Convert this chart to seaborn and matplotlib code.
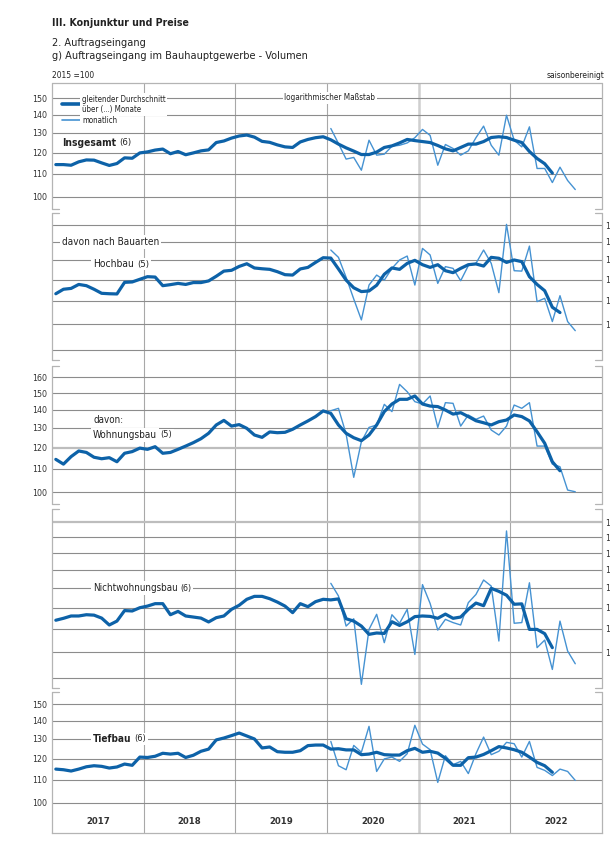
import numpy as np
import pandas as pd
import matplotlib
matplotlib.use("Agg")
import matplotlib.pyplot as plt
from matplotlib.lines import Line2D
from matplotlib.ticker import FixedLocator, FixedFormatter, NullLocator
import seaborn as sns

# ---- data (index 2015 = 100), monthly from Jan 2017 ----
years = [2017, 2018, 2019, 2020, 2021, 2022]
first_monthly = 36  # Jan 2020

ins_ma = [114.2, 114.2, 113.9, 115.5, 116.4, 116.3, 115.0, 113.8, 114.7, 117.4,
          117.2, 119.8, 120.3, 121.2, 121.7, 119.4, 120.5, 118.9, 119.8, 120.8,
          121.3, 125.0, 125.8, 127.3, 128.4, 128.9, 127.8, 125.6, 125.1, 123.8,
          122.8, 122.5, 125.3, 126.6, 127.5, 128.0,
          126.4, 124.2, 122.3, 120.7, 119.0, 119.0, 120.2, 122.5, 123.3, 124.8,
          126.6, 126.0, 125.5, 125.0, 123.5, 121.8, 120.8, 122.5, 124.2, 124.2,
          125.5, 127.6, 128.0, 127.6, 126.2, 125.0, 120.5, 117.1, 114.6, 110.3]
ins_mon = [132.4, 124.5, 116.8, 117.6, 111.6, 126.2, 118.7, 119.2, 123.1, 123.6,
           124.8, 127.5, 131.9, 128.7, 113.9, 124.0, 122.0, 118.7, 120.8, 127.5,
           133.7, 123.6, 118.7, 139.8, 126.2, 122.8, 133.3, 112.4, 112.4, 106.1,
           113.0, 107.0, 103.1]

hoch_ma = [113.2, 115.3, 115.7, 117.6, 117.0, 115.3, 113.4, 113.2, 113.1, 118.6,
           118.8, 120.1, 121.4, 121.2, 117.0, 117.5, 118.1, 117.6, 118.5, 118.5,
           119.3, 121.6, 124.2, 124.6, 126.6, 128.0, 125.8, 125.4, 125.1, 123.9,
           122.4, 122.2, 125.3, 126.1, 128.7, 131.2, 131.0, 125.3, 119.7, 116.0,
           114.2, 114.5, 117.2, 122.6, 125.8, 125.1, 128.2, 129.8, 127.5, 126.1,
           127.5, 124.4, 123.4, 125.6, 127.5, 127.9, 126.8, 131.4, 130.9, 128.7,
           130.0, 129.1, 121.4, 117.6, 114.6, 107.1, 104.8]
hoch_mon = [135.4, 131.4, 121.1, 110.8, 101.7, 117.3, 122.2, 119.7, 125.6, 130.0,
            132.1, 117.3, 136.3, 132.7, 118.1, 126.5, 125.6, 119.4, 127.0, 128.2,
            135.4, 128.2, 113.7, 150.4, 124.4, 124.2, 137.6, 109.6, 111.1, 101.0,
            112.3, 101.0, 97.3]

wohn_ma = [114.3, 112.1, 115.6, 118.3, 117.6, 115.3, 114.6, 115.1, 113.2, 117.2,
           118.0, 119.7, 119.1, 120.4, 117.2, 117.6, 119.1, 120.7, 122.4, 124.4,
           127.2, 131.6, 134.1, 131.0, 131.8, 129.8, 126.3, 125.1, 127.9, 127.5,
           127.7, 129.3, 131.6, 133.8, 136.2, 139.4, 138.0, 131.6, 127.2, 124.9,
           123.4, 126.3, 131.6, 139.0, 143.4, 146.2, 146.2, 148.2, 143.4, 142.2,
           141.9, 139.9, 137.6, 138.4, 136.2, 133.9, 132.8, 131.6, 133.4, 134.3,
           137.1, 136.2, 133.8, 128.0, 122.1, 113.2, 109.1]
wohn_mon = [139.5, 140.9, 126.8, 106.2, 122.9, 130.3, 131.6, 143.2, 139.0, 155.4,
            150.8, 144.8, 143.4, 148.2, 130.3, 144.2, 143.8, 131.0, 137.1, 134.7,
            136.5, 128.9, 126.3, 131.0, 142.8, 140.9, 144.2, 120.7, 120.7, 112.1,
            110.9, 100.8, 100.1]

nicht_ma = [113.9, 114.8, 115.9, 115.9, 116.5, 116.3, 114.9, 111.7, 113.5, 118.5,
            118.3, 119.9, 120.7, 121.9, 121.9, 116.5, 118.1, 115.9, 115.4, 114.9,
            113.1, 115.1, 115.9, 119.1, 121.1, 124.1, 125.6, 125.6, 124.4, 122.7,
            120.7, 117.5, 121.9, 120.4, 122.9, 124.1, 123.8, 124.3, 114.6, 113.5,
            111.2, 107.5, 108.1, 107.9, 113.2, 111.5, 113.2, 115.6, 115.9, 115.7,
            114.8, 116.8, 114.8, 115.4, 119.1, 122.2, 120.9, 129.8, 128.2, 126.2,
            121.6, 121.8, 109.7, 109.7, 107.8, 101.8]
nicht_mon = [132.5, 125.8, 111.2, 114.6, 87.6, 109.7, 116.7, 103.9, 116.5, 112.5,
             119.1, 99.0, 131.8, 122.0, 109.4, 114.3, 112.8, 111.7, 122.4, 126.6,
             134.3, 131.0, 104.6, 164.2, 112.5, 112.8, 132.8, 101.8, 105.0, 93.1,
             113.5, 100.4, 95.3]

tief_ma = [114.9, 114.6, 114.0, 114.9, 116.0, 116.5, 116.2, 115.4, 115.9, 117.3,
           116.7, 120.7, 120.5, 121.1, 122.6, 122.2, 122.6, 120.5, 121.6, 123.6,
           124.7, 129.5, 130.5, 131.8, 133.2, 131.6, 130.0, 125.3, 125.8, 123.4,
           123.1, 123.1, 123.9, 126.5, 126.8, 126.8, 124.7, 124.9, 124.3, 124.3,
           121.9, 122.2, 123.1, 121.9, 121.7, 121.7, 123.9, 125.1, 123.1, 123.6,
           122.7, 120.1, 116.7, 116.7, 120.4, 120.7, 122.0, 123.9, 126.0, 125.3,
           124.4, 123.1, 120.7, 118.1, 116.5, 113.4]
tief_mon = [128.7, 116.5, 114.6, 126.6, 123.1, 136.9, 113.8, 119.8, 120.7, 118.6,
            122.4, 137.5, 127.3, 124.4, 108.8, 121.4, 117.0, 118.6, 112.8, 122.4,
            131.0, 121.9, 123.6, 128.2, 127.5, 120.7, 128.7, 115.7, 114.3, 111.9,
            114.9, 113.8, 109.7]

# ---- styling ----
W, H = 610, 858
X0, X1 = 52, 602
PX_PER_DEC = 562.0
MA_COL = "#0d62a8"
MON_COL = "#4592d2"
GRID = "#8c8c8c"
VGRID = "#a8a8a8"
SPINE = "#b4b4b4"
TXT = "#222222"

sns.set_theme(style="white")
plt.rcParams["font.family"] = ["DejaVu Sans", "Liberation Sans"]
plt.rcParams["font.stretch"] = "condensed"

fig = plt.figure(figsize=(W / 100, H / 100), dpi=100)


def px_axes(x0, y0, x1, y1):
    return fig.add_axes([x0 / W, 1 - y1 / H, (x1 - x0) / W, (y1 - y0) / H])


def ftext(x, y, s, **kw):
    kw.setdefault("va", "center")
    kw.setdefault("color", TXT)
    return fig.text(x / W, 1 - y / H, s, **kw)


def month_x(start, n):
    return 2017 + (start + np.arange(n) + 0.5) / 12.0


box = dict(facecolor="white", edgecolor="none", pad=1.2)

# ---- background axes: vertical year lines and x axis ----
bg = px_axes(X0, 83, X1, 833)
bg.set_facecolor("none")
bg.set_xlim(2017, 2023)
bg.set_ylim(0, 1)
for s in ["top", "left", "right"]:
    bg.spines[s].set_visible(False)
bg.spines["bottom"].set_color(SPINE)
bg.spines["bottom"].set_linewidth(0.9)
for yr in years[1:]:
    if yr == 2021:
        bg.axvline(yr, color="#cfcfcf", lw=1.8, zorder=0)
    else:
        bg.axvline(yr, color=VGRID, lw=0.8, zorder=0)
bg.set_yticks([])
bg.set_xticks([2017 + q / 4 for q in range(25)])
bg.set_xticks([2017 + m / 12 for m in range(73)], minor=True)
bg.tick_params(axis="x", which="major", direction="in", length=5, width=0.7,
               color=SPINE, labelbottom=False)
bg.tick_params(axis="x", which="minor", direction="in", length=3, width=0.6,
               color=SPINE)
for yr in years:
    bg.text(yr + 0.5, 11 / 750, str(yr), ha="center", va="center",
            fontsize=6.8, fontweight="bold", color="#333333")

# ---- panels ----
panels = [
    dict(top=83, bot=209, p100=197, grid=[100, 110, 120, 130, 140, 150],
         labels=[100, 110, 120, 130, 140, 150], side="left",
         ma=ins_ma, mon=ins_mon, full_top=True),
    dict(top=213, bot=360, p100=324, grid=[90, 100, 110, 120, 130, 140, 150],
         labels=[100, 110, 120, 130, 140, 150], side="right",
         ma=hoch_ma, mon=hoch_mon),
    dict(top=366, bot=504, p100=492, grid=[100, 110, 120, 130, 140, 150, 160],
         labels=[100, 110, 120, 130, 140, 150, 160], side="left",
         ma=wohn_ma, mon=wohn_mon, light=[120]),
    dict(top=509, bot=688, p100=652,
         grid=[90, 100, 110, 120, 130, 140, 150, 160, 170],
         labels=[100, 110, 120, 130, 140, 150, 160, 170], side="right",
         ma=nicht_ma, mon=nicht_mon, light=[170]),
    dict(top=692, bot=833, p100=803, grid=[100, 110, 120, 130, 140, 150],
         labels=[100, 110, 120, 130, 140, 150], side="left",
         ma=tief_ma, mon=tief_mon, no_bottom=True),
]

brk = 7 / (X1 - X0)
for p in panels:
    ax = px_axes(X0, p["top"], X1, p["bot"])
    ax.set_facecolor("none")
    ax.set_yscale("log")
    ymax = 100 * 10 ** ((p["p100"] - p["top"]) / PX_PER_DEC)
    ymin = 100 * 10 ** ((p["p100"] - p["bot"]) / PX_PER_DEC)
    for v in p["grid"]:
        if v in p.get("light", []):
            ax.axhline(v, color="#bdbdbd", lw=1.6, zorder=1)
        else:
            ax.axhline(v, color=GRID, lw=0.8, zorder=1)

    mon_df = pd.DataFrame({"x": month_x(first_monthly, len(p["mon"])), "v": p["mon"]})
    ma_df = pd.DataFrame({"x": month_x(0, len(p["ma"])), "v": p["ma"]})
    sns.lineplot(data=mon_df, x="x", y="v", ax=ax, color=MON_COL, lw=1.0, zorder=3)
    sns.lineplot(data=ma_df, x="x", y="v", ax=ax, color=MA_COL, lw=2.3, zorder=4)

    ax.set_xlim(2017, 2023)
    ax.set_ylim(ymin, ymax)
    ax.set_xlabel("")
    ax.set_ylabel("")
    ax.set_xticks([])
    for s in ax.spines.values():
        s.set_visible(False)
    ax.yaxis.set_major_locator(FixedLocator(p["labels"]))
    ax.yaxis.set_major_formatter(FixedFormatter([str(v) for v in p["labels"]]))
    ax.yaxis.set_minor_locator(NullLocator())
    if p["side"] == "right":
        # labels sit at the page edge, as in the printed original
        ax.yaxis.tick_right()
        ax.tick_params(axis="y", length=0, pad=2.2, labelsize=6.3, labelcolor="#333333")
    else:
        ax.tick_params(axis="y", length=0, pad=3.5, labelsize=6.3, labelcolor="#333333")

    # side frame with bracket ends
    kw = dict(transform=ax.transAxes, color=SPINE, lw=0.9, clip_on=False, zorder=2)
    ax.plot([0, 0], [0, 1], **kw)
    ax.plot([1, 1], [0, 1], **kw)
    if p.get("full_top"):
        ax.plot([0, 1], [1, 1], **kw)
    else:
        ax.plot([0, brk], [1, 1], **kw)
        ax.plot([1 - brk, 1], [1, 1], **kw)
    if not p.get("no_bottom"):
        ax.plot([0, brk], [0, 0], **kw)
        ax.plot([1 - brk, 1], [0, 0], **kw)

# ---- header ----
ftext(52, 23, "III. Konjunktur und Preise", fontsize=7.6, fontweight="bold")
ftext(52, 43, "2. Auftragseingang", fontsize=7.8)
ftext(52, 56, "g) Auftragseingang im Bauhauptgewerbe - Volumen", fontsize=7.8)
ftext(52, 75, "2015 =100", fontsize=6.0)
ftext(604, 75, "saisonbereinigt", fontsize=6.0, ha="right")

# ---- legend ----
fig.add_artist(Line2D([62 / W, 80 / W], [1 - 104 / H, 1 - 104 / H],
                      transform=fig.transFigure, color=MA_COL, lw=2.6))
fig.add_artist(Line2D([62 / W, 80 / W], [1 - 120 / H, 1 - 120 / H],
                      transform=fig.transFigure, color=MON_COL, lw=1.2))
ftext(82, 104.5, "gleitender Durchschnitt\nüber (...) Monate", fontsize=5.7,
      linespacing=1.2, bbox=box)
ftext(82, 120.5, "monatlich", fontsize=5.7, bbox=box)
ftext(330, 98, "logarithmischer Maßstab", fontsize=5.9, ha="center", bbox=box)

# ---- panel labels ----
renderer = fig.canvas.get_renderer()


def name_label(x, y, name, note, bold=False, size=7.6):
    t = ftext(x, y, name, fontsize=size, fontweight="bold" if bold else "normal",
              bbox=box)
    bb = t.get_window_extent(renderer=renderer)
    ftext(bb.x1 + 3, y, note, fontsize=size - 0.6, bbox=box)


name_label(62, 143, "Insgesamt", "(6)", bold=True, size=7.4)
ftext(62, 242, "davon nach Bauarten", fontsize=7.2, bbox=box)
name_label(93, 264, "Hochbau", "(5)", size=7.4)
ftext(93, 420, "davon:", fontsize=7.0, bbox=box)
name_label(93, 435, "Wohnungsbau", "(5)", size=7.2)
name_label(93, 588, "Nichtwohnungsbau", "(6)", size=7.0)
name_label(93, 739, "Tiefbau", "(6)", size=7.2, bold=True)

fig.savefig("out.png", dpi=100)
